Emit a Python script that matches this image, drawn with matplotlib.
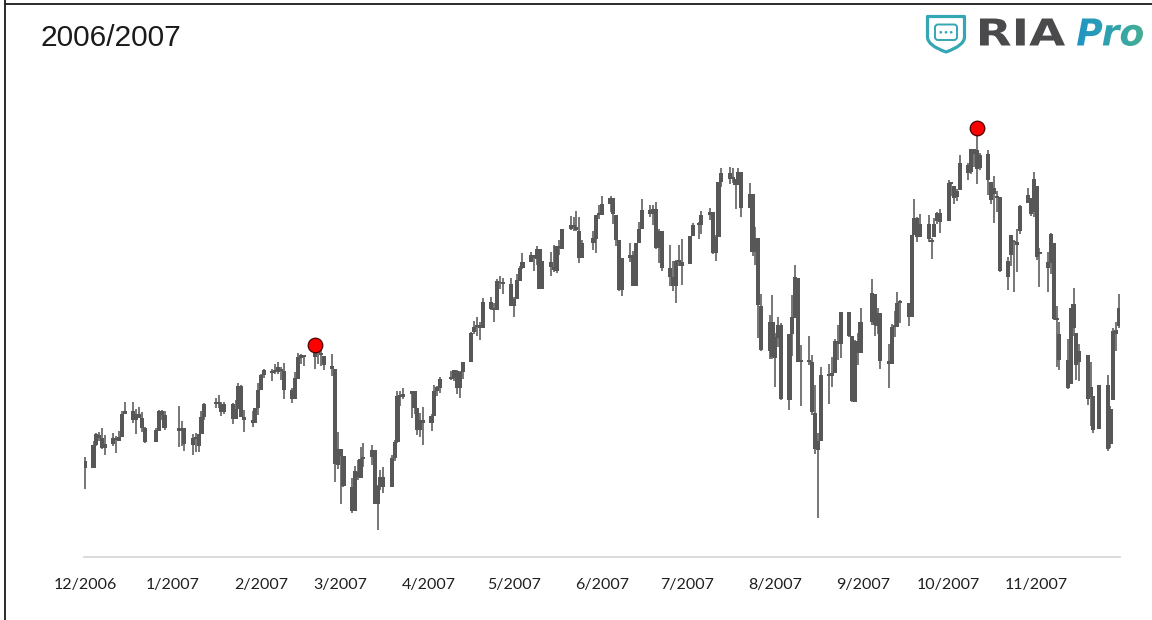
import numpy as np
import pandas as pd
import matplotlib
matplotlib.use("Agg")
import matplotlib.pyplot as plt
import matplotlib.dates as mdates
from matplotlib.textpath import TextPath
from matplotlib.patches import PathPatch, FancyBboxPatch, Circle
from matplotlib.path import Path
from matplotlib.font_manager import FontProperties
from matplotlib.transforms import Affine2D
from matplotlib.colors import LinearSegmentedColormap

# ---------------- data: daily bars (open, high, low, close) ----------------
dec_2006 = [
    (1400.6, 1402.5, 1385.9, 1396.7), (1396.7, 1411.2, 1396.7, 1409.1),
    (1409.1, 1415.3, 1408.8, 1414.8), (1414.4, 1415.9, 1411.1, 1412.9),
    (1412.9, 1418.3, 1406.8, 1407.3), (1407.3, 1414.1, 1403.7, 1409.8),
    (1409.8, 1415.6, 1408.6, 1413.0), (1413.0, 1413.8, 1404.8, 1411.6),
    (1411.3, 1416.6, 1411.3, 1413.2), (1413.2, 1427.2, 1413.2, 1425.5),
    (1425.5, 1431.6, 1425.5, 1427.1), (1427.1, 1431.8, 1420.7, 1422.5),
    (1422.4, 1428.3, 1414.9, 1425.6), (1425.5, 1429.1, 1423.5, 1423.5),
    (1423.2, 1426.4, 1415.9, 1418.3), (1418.1, 1418.8, 1410.3, 1410.8),
    (1410.8, 1417.9, 1410.4, 1416.9), (1416.6, 1427.7, 1416.6, 1426.8),
    (1426.8, 1427.3, 1422.0, 1424.7), (1424.7, 1427.0, 1416.8, 1418.3),
]
jan_2007 = [
    (1418.0, 1429.4, 1407.9, 1416.6), (1416.6, 1421.8, 1408.4, 1418.3),
    (1418.3, 1418.3, 1405.8, 1409.7), (1409.3, 1414.9, 1403.9, 1412.8),
    (1412.8, 1415.6, 1405.4, 1412.1), (1408.7, 1415.0, 1405.4, 1414.9),
    (1414.8, 1427.1, 1414.8, 1423.8), (1423.8, 1431.2, 1422.1, 1430.7),
    (1430.7, 1433.9, 1428.6, 1431.9), (1431.8, 1435.3, 1428.6, 1430.6),
    (1430.6, 1432.0, 1424.2, 1426.4), (1426.4, 1431.6, 1425.2, 1430.5),
    (1430.5, 1431.4, 1420.4, 1423.0), (1423.0, 1432.9, 1422.6, 1428.0),
    (1428.0, 1441.6, 1428.0, 1440.1), (1440.1, 1440.7, 1423.6, 1423.9),
    (1423.9, 1427.3, 1416.0, 1422.2), (1422.0, 1426.9, 1418.5, 1420.6),
    (1420.6, 1428.8, 1420.6, 1428.8), (1428.7, 1441.6, 1424.8, 1438.2),
]
feb_2007 = [
    (1437.9, 1446.6, 1437.9, 1445.9), (1445.9, 1449.3, 1444.5, 1448.4),
    (1448.3, 1449.4, 1443.0, 1447.0), (1447.4, 1452.0, 1446.4, 1448.0),
    (1447.8, 1452.9, 1446.4, 1450.0), (1449.0, 1450.4, 1443.4, 1448.3),
    (1448.3, 1452.5, 1433.4, 1438.1), (1438.0, 1439.1, 1431.4, 1433.4),
    (1433.2, 1447.4, 1433.2, 1444.3), (1443.9, 1457.7, 1443.9, 1455.3),
    (1455.2, 1457.0, 1452.0, 1456.8), (1456.8, 1456.8, 1450.5, 1455.5),
    (1455.5, 1461.6, 1449.2, 1459.7), (1459.6, 1459.6, 1452.0, 1457.6),
    (1457.3, 1461.2, 1450.5, 1456.4), (1456.2, 1456.2, 1448.4, 1451.2),
    (1451.0, 1456.9, 1445.5, 1449.4), (1449.3, 1449.3, 1389.4, 1399.0),
    (1398.6, 1415.9, 1396.6, 1406.8),
]
mar_2007 = [
    (1406.8, 1406.8, 1377.7, 1403.2), (1403.2, 1403.4, 1386.9, 1387.2),
    (1387.1, 1391.9, 1373.4, 1374.1), (1374.1, 1397.9, 1374.1, 1395.4),
    (1395.0, 1401.2, 1390.6, 1392.0), (1391.9, 1407.9, 1391.9, 1401.9),
    (1401.9, 1410.2, 1397.3, 1402.8), (1402.8, 1409.3, 1398.4, 1406.6),
    (1406.2, 1406.2, 1377.7, 1378.0), (1377.9, 1388.1, 1364.0, 1387.2),
    (1387.1, 1395.7, 1385.2, 1392.3), (1392.3, 1397.5, 1383.6, 1387.0),
    (1386.9, 1403.8, 1386.9, 1402.1), (1402.0, 1411.5, 1400.7, 1410.9),
    (1410.9, 1437.8, 1409.9, 1435.0), (1435.0, 1437.7, 1429.9, 1434.5),
    (1434.5, 1438.9, 1433.2, 1436.1), (1436.1, 1437.7, 1423.3, 1437.5),
    (1437.5, 1437.5, 1425.5, 1428.6), (1428.4, 1428.4, 1414.1, 1417.2),
    (1417.2, 1426.2, 1413.3, 1422.5), (1422.5, 1429.2, 1408.9, 1420.9),
]
apr_2007 = [
    (1420.8, 1425.5, 1416.4, 1424.6), (1424.3, 1440.6, 1424.3, 1437.8),
    (1437.8, 1440.2, 1435.1, 1439.4), (1438.9, 1444.9, 1436.7, 1443.8),
    (1443.8, 1448.1, 1443.3, 1444.6), (1444.6, 1448.7, 1443.0, 1448.4),
    (1448.2, 1448.8, 1436.2, 1438.9), (1438.9, 1448.0, 1433.9, 1447.8),
    (1447.8, 1453.1, 1444.0, 1452.9), (1452.8, 1468.6, 1452.8, 1468.3),
    (1468.5, 1474.4, 1467.8, 1471.5), (1471.5, 1476.6, 1466.4, 1472.5),
    (1472.5, 1474.2, 1464.5, 1470.7), (1470.7, 1486.7, 1470.7, 1484.4),
    (1484.3, 1487.3, 1480.2, 1480.9), (1480.9, 1483.8, 1473.7, 1480.4),
    (1480.3, 1496.6, 1480.3, 1495.4), (1495.3, 1498.0, 1491.4, 1494.3),
    (1494.2, 1497.3, 1488.7, 1494.1), (1494.1, 1497.2, 1482.3, 1482.4),
]
may_2007 = [
    (1482.4, 1487.3, 1476.7, 1486.3), (1486.1, 1499.1, 1486.1, 1495.9),
    (1495.6, 1503.3, 1495.6, 1502.4), (1502.4, 1510.3, 1501.8, 1505.6),
    (1505.6, 1511.0, 1505.5, 1509.5), (1509.4, 1509.4, 1500.7, 1507.7),
    (1507.3, 1513.8, 1503.8, 1512.6), (1512.3, 1512.3, 1491.4, 1491.5),
    (1491.5, 1506.2, 1491.5, 1505.9), (1505.8, 1510.9, 1498.3, 1503.2),
    (1503.1, 1514.8, 1500.4, 1501.2), (1500.8, 1514.2, 1500.0, 1514.1),
    (1514.0, 1517.1, 1509.3, 1512.8), (1512.7, 1522.8, 1512.7, 1522.8),
    (1522.8, 1529.9, 1522.7, 1525.1), (1525.1, 1529.2, 1522.1, 1524.1),
    (1524.1, 1532.4, 1521.9, 1522.3), (1522.1, 1529.3, 1505.2, 1507.5),
    (1507.5, 1517.4, 1507.5, 1515.7), (1515.6, 1521.8, 1512.0, 1518.1),
    (1517.6, 1530.2, 1510.1, 1530.2), (1530.2, 1535.6, 1528.3, 1530.6),
]
jun_2007 = [
    (1530.6, 1540.6, 1530.6, 1536.3), (1536.3, 1540.5, 1532.0, 1539.2),
    (1539.1, 1539.1, 1525.6, 1531.0), (1530.6, 1530.6, 1514.0, 1517.4),
    (1517.4, 1517.4, 1490.4, 1490.7), (1490.7, 1507.8, 1487.4, 1507.7),
    (1507.6, 1515.5, 1505.7, 1509.1), (1509.1, 1511.3, 1492.9, 1493.0),
    (1492.7, 1515.7, 1492.7, 1515.7), (1515.6, 1526.5, 1515.6, 1523.0),
    (1523.0, 1538.7, 1523.0, 1532.9), (1532.9, 1535.4, 1529.3, 1531.1),
    (1531.0, 1535.9, 1525.1, 1533.7), (1533.7, 1537.3, 1512.4, 1512.8),
    (1512.8, 1522.9, 1504.8, 1522.2), (1522.2, 1522.2, 1500.7, 1502.6),
    (1502.6, 1514.3, 1492.7, 1497.7), (1497.7, 1506.1, 1490.5, 1492.9),
    (1492.9, 1506.8, 1484.2, 1506.3), (1506.3, 1514.8, 1503.4, 1505.7),
    (1505.7, 1517.5, 1493.6, 1503.4),
]
jul_2007 = [
    (1504.7, 1519.5, 1504.7, 1519.4), (1519.1, 1526.0, 1519.1, 1524.9),
    (1524.9, 1526.6, 1517.7, 1525.4), (1524.9, 1532.4, 1520.5, 1530.4),
    (1530.4, 1534.3, 1527.5, 1531.9), (1531.9, 1531.9, 1510.0, 1510.1),
    (1510.1, 1519.9, 1506.1, 1518.8), (1518.7, 1548.0, 1518.7, 1547.7),
    (1547.7, 1555.1, 1544.9, 1552.5), (1552.5, 1555.9, 1546.7, 1549.5),
    (1549.5, 1555.3, 1547.2, 1549.4), (1549.2, 1549.2, 1533.7, 1546.2),
    (1546.1, 1555.2, 1546.1, 1553.1), (1553.2, 1553.2, 1529.2, 1534.1),
    (1534.1, 1547.2, 1534.1, 1541.6), (1541.6, 1541.6, 1508.6, 1511.0),
    (1511.0, 1524.3, 1503.8, 1518.1), (1518.1, 1518.1, 1465.7, 1482.7),
    (1482.4, 1488.5, 1458.9, 1459.0), (1458.9, 1477.9, 1454.3, 1473.9),
    (1474.0, 1488.3, 1454.3, 1455.3),
]
aug_2007 = [
    (1455.2, 1468.4, 1439.6, 1465.8), (1465.5, 1476.4, 1460.6, 1472.2),
    (1472.2, 1473.2, 1432.8, 1433.1), (1433.0, 1467.7, 1427.4, 1467.7),
    (1467.6, 1488.3, 1455.8, 1476.7), (1476.2, 1503.9, 1476.2, 1497.5),
    (1497.2, 1497.2, 1453.1, 1453.1), (1453.1, 1462.0, 1429.7, 1453.6),
    (1453.4, 1466.3, 1451.5, 1452.9), (1452.9, 1456.7, 1425.0, 1426.5),
    (1426.2, 1440.8, 1404.4, 1406.7), (1406.6, 1415.3, 1370.6, 1411.3),
    (1411.3, 1450.3, 1411.3, 1445.9), (1445.9, 1451.8, 1430.5, 1445.6),
    (1445.6, 1455.3, 1439.8, 1447.1), (1447.0, 1464.9, 1447.0, 1464.1),
    (1464.1, 1472.1, 1453.9, 1462.5), (1462.3, 1479.4, 1455.1, 1479.4),
    (1479.4, 1479.4, 1465.9, 1466.8), (1466.7, 1466.7, 1432.0, 1432.4),
    (1432.0, 1464.2, 1432.0, 1463.8), (1463.7, 1468.4, 1451.3, 1457.6),
    (1457.6, 1481.5, 1457.6, 1474.0),
]
sep_2007 = [
    (1474.0, 1496.4, 1472.2, 1489.4), (1488.8, 1488.8, 1466.3, 1472.3),
    (1472.0, 1481.5, 1467.4, 1478.6), (1478.6, 1478.6, 1449.1, 1453.6),
    (1453.5, 1462.6, 1439.3, 1451.7), (1451.7, 1473.0, 1451.7, 1471.5),
    (1471.1, 1479.5, 1465.8, 1471.6), (1471.5, 1489.6, 1471.5, 1484.0),
    (1483.9, 1485.4, 1473.2, 1484.3), (1484.2, 1484.2, 1471.8, 1476.7),
    (1476.6, 1519.9, 1476.6, 1519.8), (1519.8, 1538.7, 1519.8, 1529.0),
    (1528.7, 1529.1, 1516.4, 1518.8), (1518.8, 1530.9, 1518.8, 1525.8),
    (1525.8, 1530.2, 1516.2, 1517.7), (1516.3, 1518.3, 1507.1, 1517.2),
    (1518.6, 1529.0, 1518.6, 1525.4), (1527.3, 1532.2, 1525.5, 1531.4),
    (1531.2, 1533.7, 1521.0, 1526.8),
]
oct_2007 = [
    (1527.3, 1549.0, 1527.3, 1547.0), (1547.0, 1548.0, 1540.4, 1546.6),
    (1545.8, 1545.8, 1536.3, 1539.6), (1539.9, 1544.0, 1537.6, 1542.8),
    (1543.8, 1561.9, 1543.8, 1557.6), (1556.5, 1557.6, 1549.0, 1552.6),
    (1553.2, 1565.3, 1551.8, 1565.2), (1565.0, 1565.4, 1555.5, 1562.5),
    (1564.7, 1576.1, 1546.7, 1554.4), (1555.4, 1563.0, 1554.1, 1561.8),
    (1562.3, 1564.7, 1540.8, 1548.7), (1547.8, 1547.8, 1536.3, 1538.5),
    (1544.4, 1550.7, 1526.0, 1541.2), (1539.3, 1542.8, 1531.8, 1540.1),
    (1540.0, 1540.0, 1500.3, 1500.6), (1497.8, 1508.1, 1490.6, 1506.3),
    (1509.3, 1520.0, 1503.6, 1519.6), (1516.6, 1517.2, 1489.6, 1515.9),
    (1516.2, 1523.2, 1500.5, 1514.4), (1522.2, 1535.5, 1520.4, 1535.3),
    (1536.9, 1544.7, 1536.9, 1541.0), (1539.4, 1539.4, 1529.6, 1531.0),
    (1532.2, 1552.8, 1529.4, 1549.4),
]
nov_2007 = [
    (1545.8, 1545.8, 1506.7, 1508.4), (1511.1, 1513.2, 1492.5, 1509.7),
    (1505.6, 1510.8, 1489.9, 1502.2), (1505.3, 1520.8, 1499.1, 1520.3),
    (1515.5, 1515.5, 1475.0, 1475.6), (1475.3, 1482.5, 1450.3, 1474.8),
    (1467.6, 1474.1, 1448.5, 1453.7), (1453.7, 1464.9, 1438.5, 1439.2),
    (1441.4, 1481.4, 1441.4, 1481.1), (1483.4, 1492.1, 1466.5, 1470.6),
    (1468.0, 1468.0, 1443.5, 1451.2), (1453.1, 1462.2, 1443.0, 1458.7),
    (1456.7, 1456.7, 1430.4, 1433.3), (1434.5, 1452.6, 1419.3, 1439.7),
    (1434.7, 1434.7, 1415.6, 1416.8), (1417.6, 1440.9, 1417.6, 1440.7),
    (1440.7, 1446.1, 1406.1, 1407.2), (1409.6, 1429.5, 1407.4, 1428.2),
    (1432.9, 1470.9, 1432.9, 1469.0), (1467.4, 1473.8, 1458.9, 1469.7),
    (1471.8, 1488.9, 1470.9, 1481.1),
]

months = ["2006-12", "2007-01", "2007-02", "2007-03", "2007-04", "2007-05",
          "2007-06", "2007-07", "2007-08", "2007-09", "2007-10", "2007-11"]
month_bars = [dec_2006, jan_2007, feb_2007, mar_2007, apr_2007, may_2007,
              jun_2007, jul_2007, aug_2007, sep_2007, oct_2007, nov_2007]
market_holidays = ["2006-12-25", "2007-01-01", "2007-01-02", "2007-01-15",
                   "2007-02-19", "2007-04-06", "2007-05-28", "2007-07-04",
                   "2007-09-03", "2007-11-22"]
tick_labels = ["12/2006", "1/2007", "2/2007", "3/2007", "4/2007", "5/2007",
               "6/2007", "7/2007", "8/2007", "9/2007", "10/2007", "11/2007"]
peak_dates = ["2007-02-20", "2007-10-11"]
title_text = "2006/2007"

# ---------------- build series ----------------
hol = pd.to_datetime(market_holidays)
dates = []
bars = []
for m, rows in zip(months, month_bars):
    p = pd.Period(m, "M")
    days = pd.bdate_range(p.start_time, p.end_time.normalize())
    days = [d for d in days if d not in hol]
    assert len(days) == len(rows), (m, len(days), len(rows))
    dates.extend(days)
    bars.extend(rows)
df = pd.DataFrame(bars, columns=["open", "high", "low", "close"],
                  index=pd.DatetimeIndex(dates))
x = mdates.date2num(df.index.to_pydatetime())

W, H = 1152, 620
fig = plt.figure(figsize=(W / 100, H / 100), dpi=100)
fig.patch.set_facecolor("white")

# overlay in pixel coordinates for frame, title and logo
ov = fig.add_axes([0, 0, 1, 1])
ov.set_xlim(0, W)
ov.set_ylim(H, 0)
ov.set_autoscale_on(False)
ov.axis("off")

frame_c = "#1a1a1a"
ov.plot([4.8, W], [4.2, 4.2], color=frame_c, lw=1.3, solid_capstyle="butt")
ov.plot([4.8, 4.8], [0, H], color=frame_c, lw=1.3, solid_capstyle="butt")

ov.text(40, 38, title_text, fontsize=21.5, family="Liberation Sans",
        color="#1a1a1a", ha="left", va="center")

# --- logo: shield ---
teal = "#35A6B4"
sv = [(927.5, 16.5), (964.5, 16.5), (964.5, 37), (964.5, 45.5), (946, 52),
      (927.5, 45.5), (927.5, 37), (927.5, 16.5)]
sc = [Path.MOVETO, Path.LINETO, Path.LINETO, Path.CURVE3, Path.CURVE3,
      Path.CURVE3, Path.CURVE3, Path.CLOSEPOLY]
ov.add_patch(PathPatch(Path(sv, sc), fill=False, ec=teal, lw=2.3,
                       joinstyle="round"))
ov.add_patch(FancyBboxPatch((935, 24.5), 22, 15.5,
                            boxstyle="round,pad=0,rounding_size=3",
                            fill=False, ec=teal, lw=1.4))
for cx in (940.8, 946, 951.2):
    ov.add_patch(Circle((cx, 32.3), 1.35, color=teal, lw=0))


def place_text_path(s, prop, x0, x1, ytop, ybot):
    tp = TextPath((0, 0), s, size=1, prop=prop)
    ext = tp.get_extents()
    sx = (x1 - x0) / ext.width
    sy = (ybot - ytop) / ext.height
    tr = Affine2D().translate(-ext.x0, -ext.y0).scale(sx, -sy).translate(x0, ybot)
    return tr.transform_path(tp)


ria = place_text_path("RIA", FontProperties(family="DejaVu Sans", weight="bold"),
                      980, 1065, 18.5, 45.5)
ov.add_patch(PathPatch(ria, fc="#4a4a4c", ec="none"))

pro = place_text_path("Pro", FontProperties(family="DejaVu Sans", weight="bold",
                                            style="oblique"),
                      1077, 1143, 18.5, 46)
pro_patch = PathPatch(pro, fc="none", ec="none")
ov.add_patch(pro_patch)
grad = np.linspace(0, 1, 256).reshape(1, -1)
cmap = LinearSegmentedColormap.from_list("ria", ["#1F93C6", "#2FA2AE", "#46AE92"])
im = ov.imshow(grad, extent=(1075, 1145, 47, 17), cmap=cmap, aspect="auto",
               interpolation="bilinear", zorder=3)
im.set_clip_path(pro_patch)
ov.set_xlim(0, W)
ov.set_ylim(H, 0)

# ---------------- main chart ----------------
ax = fig.add_axes([84 / W, 1 - 557 / H, (1120 - 84) / W, (557 - 83) / H])
ax.patch.set_alpha(0)
x_start = mdates.date2num(pd.Timestamp("2006-12-01")) - 0.35
x_end = mdates.date2num(pd.Timestamp("2007-11-30")) + 0.35
ax.set_xlim(x_start, x_end)
ax.set_ylim(1350, 1600)

bar_c = "#575757"
ax.vlines(x, df["low"], df["high"], color=bar_c, lw=1.15, zorder=2)
body_lo = np.minimum(df["open"], df["close"])
body_h = np.maximum(np.abs(df["close"] - df["open"]), 1.0)
ax.bar(x, body_h, bottom=body_lo, width=1.45, color=bar_c, lw=0, zorder=3)

pk = pd.to_datetime(peak_dates)
ax.plot(mdates.date2num(pk.to_pydatetime()), df.loc[pk, "high"], "o",
        ms=10.5, mfc="#FF0000", mec="#4a0000", mew=0.9, zorder=5)

for s in ("top", "right", "left"):
    ax.spines[s].set_visible(False)
ax.spines["bottom"].set_color("#D9D9D9")
ax.spines["bottom"].set_linewidth(1.3)
ax.set_yticks([])
tick_pos = [mdates.date2num(pd.Timestamp(m + "-01")) for m in months]
ax.set_xticks(tick_pos)
ax.set_xticklabels(tick_labels, fontsize=11.5, family="Lato", color="#1f1f1f")
ax.tick_params(axis="x", length=0, pad=15)

fig.savefig("out.png", dpi=100, facecolor="white")
